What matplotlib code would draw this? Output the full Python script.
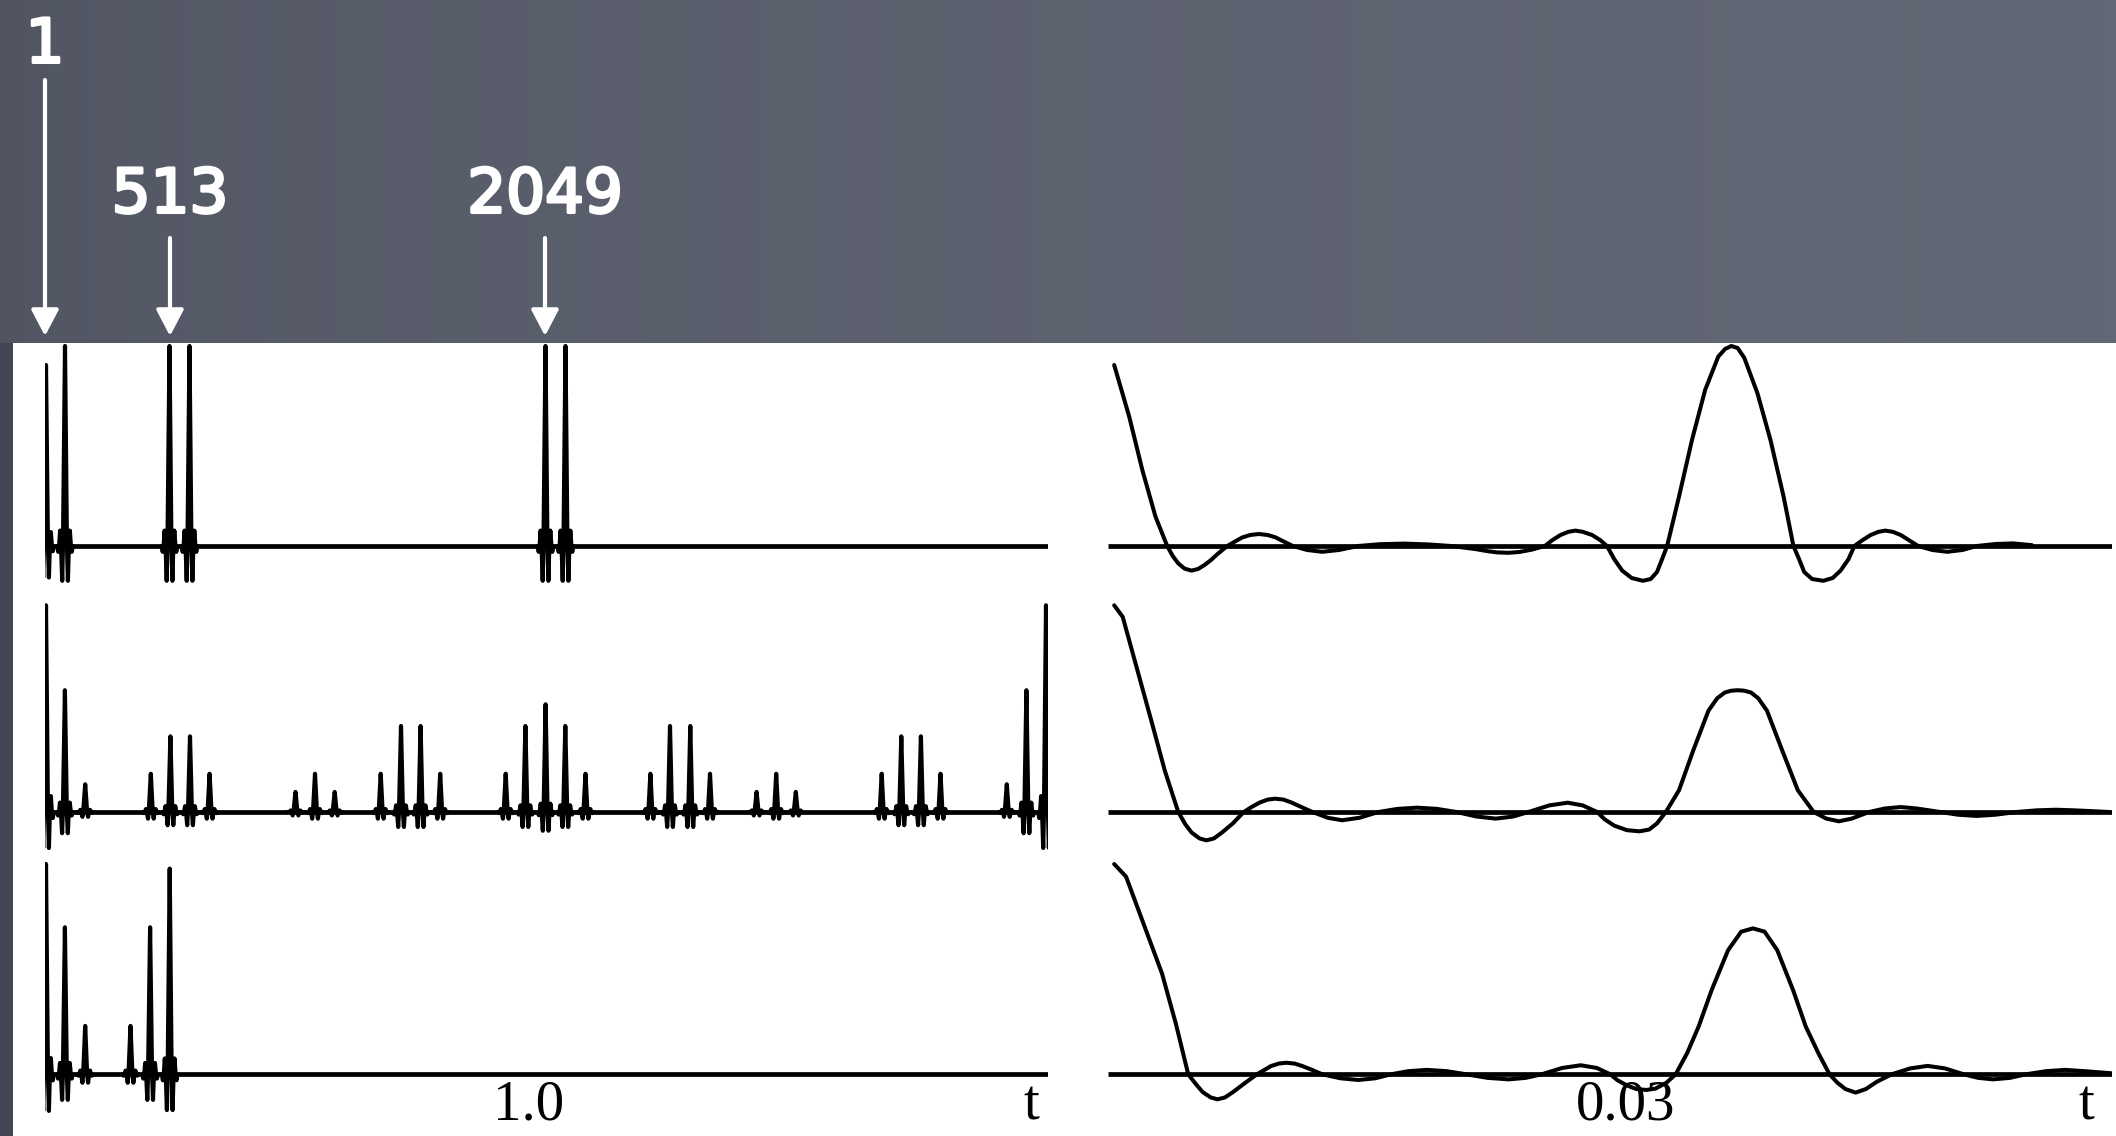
import numpy as np
import matplotlib.pyplot as plt
import matplotlib.patheffects as pe

W, H, DPI = 2116, 1136, 100

# ---- left column: spike trains over 0 <= t <= 2 (height relative to the row's unit)
SPIKES_T1 = [0.0, 0.038, 0.247, 0.287, 0.999, 1.039]
SPIKES_A1 = [0.905, 1.0, 1.0, 1.0, 1.0, 1.0]

SPIKES_T2 = [0.0, 0.0378, 0.0784,
             0.2096, 0.2488, 0.288, 0.3272,
             0.499, 0.538, 0.5774,
             0.6694, 0.710, 0.7492, 0.7884,
             0.9194, 0.9588, 0.9992, 1.0386, 1.079,
             1.2088, 1.248, 1.2886, 1.328,
             1.4212, 1.4604, 1.4996,
             1.6714, 1.7106, 1.7498, 1.789,
             1.9216, 1.9608, 2.0]
SPIKES_A2 = [1.0, 0.589, 0.134,
             0.185, 0.366, 0.366, 0.185,
             0.097, 0.185, 0.097,
             0.185, 0.416, 0.416, 0.185,
             0.185, 0.416, 0.521, 0.416, 0.185,
             0.185, 0.416, 0.416, 0.185,
             0.097, 0.185, 0.097,
             0.185, 0.366, 0.366, 0.185,
             0.134, 0.589, 1.0]

SPIKES_T3 = [0.0, 0.0378, 0.0784, 0.169, 0.2082, 0.2474]
SPIKES_A3 = [1.0, 0.699, 0.230, 0.230, 0.699, 0.978]

# ringing around a single spike (offset in t, fraction of the spike height)
PULSE_DT = [-0.0155, -0.0137, -0.0118, -0.0098, -0.0079, -0.0056, -0.0041, 0.0,
            0.0039, 0.0058, 0.0077, 0.0097, 0.0118, 0.0136, 0.0155]
PULSE_A = [0.0, -0.029, 0.0, 0.077, 0.0, -0.174, 0.0, 1.0,
           0.0, -0.174, 0.0, 0.077, 0.0, -0.029, 0.0]

# ---- right column: close-up of the first two pulses, 0 <= t <= 0.063
ZOOM_T1 = [0.0, 0.00095, 0.00178, 0.00261, 0.00335,
           0.0037, 0.00405, 0.00445, 0.00488, 0.0053, 0.00571, 0.00612, 0.00653, 0.00715,
           0.00765, 0.0081, 0.0086, 0.00914, 0.0097, 0.0102, 0.0107, 0.01129,
           0.0122, 0.01315, 0.0142, 0.01542,
           0.0168, 0.0183, 0.0198, 0.0213,
           0.0228, 0.0236, 0.0242, 0.0249, 0.0256, 0.0264, 0.02721,
           0.0277, 0.0282, 0.0287, 0.02915, 0.0296, 0.0302, 0.0307, 0.03114,
           0.0316, 0.0321, 0.0327, 0.03341, 0.0339, 0.0343, 0.0346, 0.03494,
           0.03569, 0.03651, 0.03734, 0.03817, 0.0386, 0.03899, 0.0394, 0.03982,
           0.04065, 0.04147, 0.0423, 0.04292,
           0.0433, 0.0436, 0.0441, 0.0448, 0.0454, 0.0459, 0.0464, 0.04677,
           0.0473, 0.0478, 0.0483, 0.04872, 0.0492, 0.0497, 0.0502, 0.0508,
           0.0517, 0.05264, 0.0536, 0.0545,
           0.0557, 0.0568, 0.0580]
ZOOM_Y1 = [0.905, 0.647, 0.38, 0.147, 0.0,
           -0.05, -0.087, -0.113, -0.123, -0.115, -0.095, -0.07, -0.04, 0.0,
           0.023, 0.043, 0.055, 0.06, 0.055, 0.043, 0.023, 0.0,
           -0.02, -0.029, -0.02, 0.0,
           0.009, 0.012, 0.008, 0.0,
           -0.015, -0.026, -0.032, -0.034, -0.03, -0.018, 0.0,
           0.03, 0.055, 0.071, 0.077, 0.071, 0.055, 0.03, 0.0,
           -0.066, -0.123, -0.16, -0.174, -0.165, -0.13, -0.07, 0.0,
           0.247, 0.53, 0.78, 0.947, 0.985, 1.0, 0.99, 0.94,
           0.763, 0.53, 0.247, 0.0,
           -0.07, -0.13, -0.165, -0.174, -0.16, -0.123, -0.066, 0.0,
           0.03, 0.055, 0.071, 0.077, 0.071, 0.055, 0.03, 0.0,
           -0.02, -0.029, -0.02, 0.0,
           0.01, 0.013, 0.004]

ZOOM_T2 = [0.0, 0.00054, 0.0024, 0.0032, 0.00405,
           0.0045, 0.0049, 0.0054, 0.00583, 0.0063, 0.0068, 0.0075, 0.00819,
           0.0087, 0.0092, 0.0097, 0.01017, 0.0107, 0.0112, 0.0118, 0.01253,
           0.0135, 0.0144, 0.0155, 0.0167,
           0.0179, 0.01915, 0.0204, 0.02163,
           0.0229, 0.02411, 0.0252, 0.02618,
           0.0275, 0.02866, 0.0296, 0.03052,
           0.0310, 0.0316, 0.0324, 0.0332, 0.0338, 0.0343, 0.03486,
           0.03569, 0.0366, 0.03755, 0.0381, 0.03858, 0.0390, 0.03941, 0.0398, 0.04024,
           0.0407, 0.04125, 0.0422, 0.0432, 0.0442,
           0.0450, 0.0458, 0.0466, 0.0477,
           0.0487, 0.0497, 0.0507, 0.0522,
           0.0533, 0.0545, 0.0557, 0.0570,
           0.0583, 0.0595, 0.0607, 0.0629]
ZOOM_Y2 = [1.0, 0.944, 0.427, 0.2, 0.0,
           -0.06, -0.1, -0.128, -0.137, -0.128, -0.1, -0.055, 0.0,
           0.025, 0.046, 0.06, 0.0645, 0.06, 0.046, 0.025, 0.0,
           -0.028, -0.04, -0.028, 0.0,
           0.015, 0.021, 0.015, 0.0,
           -0.022, -0.032, -0.022, 0.0,
           0.032, 0.045, 0.032, 0.0,
           -0.036, -0.066, -0.088, -0.0935, -0.085, -0.055, 0.0,
           0.105, 0.3, 0.49, 0.55, 0.578, 0.587, 0.589, 0.587, 0.578,
           0.55, 0.49, 0.3, 0.105, 0.0,
           -0.032, -0.045, -0.032, 0.0,
           0.017, 0.024, 0.017, 0.0,
           -0.013, -0.019, -0.013, 0.0,
           0.008, 0.011, 0.008, 0.0]

ZOOM_T3 = [0.0, 0.00075, 0.00302, 0.0039, 0.00468,
           0.0052, 0.0056, 0.0061, 0.00653, 0.0070, 0.0075, 0.0082, 0.00902,
           0.0095, 0.0099, 0.0104, 0.01087, 0.0114, 0.0119, 0.0125, 0.01315,
           0.0143, 0.01542, 0.0165, 0.01749,
           0.0186, 0.01977, 0.0210, 0.02225,
           0.0236, 0.02493, 0.0260, 0.02701,
           0.0283, 0.02948, 0.0305, 0.03135,
           0.0318, 0.0324, 0.0330, 0.03362, 0.0342, 0.0349, 0.03548,
           0.0362, 0.03693, 0.03775, 0.03879, 0.03962, 0.04036, 0.0411, 0.0419,
           0.0429, 0.0437, 0.0445, 0.0452,
           0.0457, 0.0462, 0.04685, 0.0475, 0.0482, 0.04913,
           0.0503, 0.0514, 0.0525, 0.05368,
           0.0546, 0.05553, 0.0566, 0.0576,
           0.0589, 0.06008, 0.0613, 0.063]
ZOOM_Y3 = [1.0, 0.94, 0.48, 0.24, 0.0,
           -0.05, -0.085, -0.11, -0.119, -0.11, -0.085, -0.045, 0.0,
           0.021, 0.039, 0.051, 0.055, 0.051, 0.039, 0.021, 0.0,
           -0.019, -0.027, -0.019, 0.0,
           0.015, 0.021, 0.015, 0.0,
           -0.017, -0.024, -0.017, 0.0,
           0.03, 0.043, 0.03, 0.0,
           -0.028, -0.053, -0.07, -0.0745, -0.068, -0.04, 0.0,
           0.1, 0.227, 0.40, 0.59, 0.678, 0.694, 0.678, 0.59,
           0.40, 0.227, 0.1, 0.0,
           -0.04, -0.07, -0.087, -0.07, -0.035, 0.0,
           0.028, 0.04, 0.028, 0.0,
           -0.017, -0.024, -0.017, 0.0,
           0.015, 0.021, 0.015, 0.005]

ROWS = [
    (SPIKES_T1, SPIKES_A1, ZOOM_T1, ZOOM_Y1),
    (SPIKES_T2, SPIKES_A2, ZOOM_T2, ZOOM_Y2),
    (SPIKES_T3, SPIKES_A3, ZOOM_T3, ZOOM_Y3),
]

# pixel layout of the three strips: (top, bottom, baseline, px per unit)
ROW_BOXES = [(343, 600, 546, 200.0), (600, 860, 812, 206.7), (860, 1136, 1074.3, 210.3)]
LEFT_BOX = (44.5, 1047.5, (-0.003, 2.003))
RIGHT_BOX = (1108, 2112, (-0.00039, 0.06305))

INK = "black"
CHALK = "white"


def add_panel(fig, xbox, row):
    x0, x1, xlim = xbox
    y0, y1, base, unit = row
    ax = fig.add_axes([x0 / W, 1 - y1 / H, (x1 - x0) / W, (y1 - y0) / H])
    ax.set_xlim(xlim)
    ax.set_ylim((base - y1) / unit, (base - y0) / unit)
    ax.axis("off")
    ax.patch.set_alpha(0)
    ax.axhline(0, color=INK, lw=3.4, solid_capstyle="butt")
    return ax


fig = plt.figure(figsize=(W / DPI, H / DPI), dpi=DPI)

# chalkboard backdrop and the white plot card
bg = fig.add_axes([0, 0, 1, 1])
bg.set_xlim(0, W)
bg.set_ylim(H, 0)
bg.axis("off")
shade = np.linspace(0.0, 1.0, 256)
left_col = np.array([80, 84, 97]) / 255
right_col = np.array([99, 104, 118]) / 255
grad = left_col[None, :] + (right_col - left_col)[None, :] * np.sqrt(shade)[:, None]
bg.imshow(grad[None, :, :], extent=[0, W, H, 0], aspect="auto", zorder=0)
bg.add_patch(plt.Rectangle((0, 343), 13, H - 343, facecolor="#434753",
                           edgecolor="none", zorder=1))
bg.add_patch(plt.Rectangle((13, 343), W - 13, H - 343, facecolor="white",
                           edgecolor="none", zorder=1))

# sample-index callouts (regular weight, slightly thickened like chalk)
label_font = dict(color=CHALK, fontsize=44, family="DejaVu Sans",
                  ha="center", va="center", zorder=3,
                  path_effects=[pe.withStroke(linewidth=2.2, foreground=CHALK)])
bg.text(45, 46, "1", **label_font)
bg.text(170, 196, "513", **label_font)
bg.text(545, 196, "2049", **label_font)
arrow = dict(arrowstyle="-|>,head_length=0.8,head_width=0.42", color=CHALK,
             lw=3.0, shrinkA=0, shrinkB=0, mutation_scale=20)
for x, y_from in [(45, 80), (170, 238), (545, 238)]:
    bg.annotate("", xy=(x, 336), xytext=(x, y_from), arrowprops=arrow, zorder=3)

# three rows: full spike trains on the left, close-up on the right
for (spk_t, spk_a, zt, zy), row in zip(ROWS, ROW_BOXES):
    axl = add_panel(fig, LEFT_BOX, row)
    for t0, a in zip(spk_t, spk_a):
        axl.plot(t0 + np.array(PULSE_DT), a * np.array(PULSE_A), color=INK, lw=3.0,
                 solid_joinstyle="round", solid_capstyle="round")
    axr = add_panel(fig, RIGHT_BOX, row)
    axr.plot(zt, zy, color=INK, lw=2.9, solid_joinstyle="round", solid_capstyle="round")

# axis annotations along the bottom strip
tick_font = dict(color=INK, fontsize=41, family="Liberation Serif",
                 ha="center", va="center", zorder=4)
bg.text(529, 1106, "1.0", **tick_font)
bg.text(1031, 1106, "t", **tick_font)
bg.text(1626, 1106, "0.03", **tick_font)
bg.text(2086, 1106, "t", **tick_font)

fig.savefig("out.png", dpi=DPI)
